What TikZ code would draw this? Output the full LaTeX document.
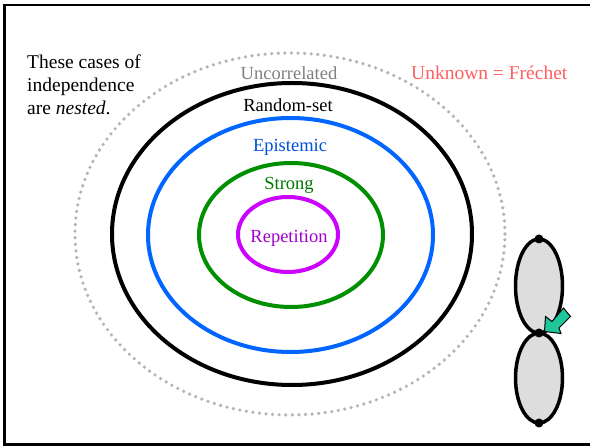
\documentclass[tikz,border=0pt]{standalone}
\usepackage{fontspec}
\setmainfont{Liberation Serif}
\usetikzlibrary{shapes.geometric}
\definecolor{dotgray}{HTML}{B4B4B4}
\definecolor{ublue}{HTML}{0066FF}
\definecolor{ugreen}{HTML}{008F00}
\definecolor{upurple}{HTML}{CC00FF}
\definecolor{tgray}{HTML}{808080}
\definecolor{tblue}{HTML}{0050DD}
\definecolor{tgreen}{HTML}{007A00}
\definecolor{tpurple}{HTML}{A000CC}
\definecolor{tred}{HTML}{FF5F5F}
\definecolor{lobe}{HTML}{DDDDDD}
\definecolor{teal}{HTML}{1DC79B}
\tikzset{
  ring/.style={ellipse, draw, line width=4pt, inner sep=0pt, outer sep=0pt},
  lbl/.style={font=\fontsize{18.5}{20}\selectfont, inner sep=0pt},
  lobeshape/.style={ellipse, draw, fill=lobe, line width=3.5pt, inner sep=0pt, outer sep=0pt},
  dotnode/.style={circle, fill=black, inner sep=0pt, minimum size=9pt},
}
\begin{document}
\begin{tikzpicture}[x=1pt,y=-1pt]
\useasboundingbox (0,0) rectangle (590,446);
\fill[white] (0,0) rectangle (590,446);
% frame
\draw[line width=2.6pt] (600,5) -- (4.5,5) -- (4.5,444.3) -- (600,444.3);
% nested ellipses
\node[ellipse, draw=dotgray, line width=3.6pt, dash pattern=on 0pt off 6.6pt, line cap=round,
      minimum width=430pt, minimum height=362pt, inner sep=0pt] (unc) at (290,234) {};
\node[ring, draw=black, minimum width=360pt, minimum height=302pt] (rs) at (292,234) {};
\node[ring, draw=ublue, minimum width=285pt, minimum height=234pt] (ep) at (290.5,235) {};
\node[ring, draw=ugreen, minimum width=184pt, minimum height=144pt] (st) at (291,235) {};
\node[ring, draw=upurple, minimum width=100pt, minimum height=75pt] (rep) at (288,234.5) {};
% labels
\node[lbl, text=tgray] (lunc) at (289,73) {Uncorrelated};
\node[lbl, text=black] (lrs) at (288,105) {Random-set};
\node[lbl, text=tblue] (lep) at (290,147) {Epistemic};
\node[lbl, text=tgreen] (lst) at (289,185) {Strong};
\node[lbl, text=tpurple] (lrep) at (289,238) {Repetition};
\node[font=\fontsize{19.5}{21}\selectfont, text=tred, inner sep=0pt, anchor=west] (fre) at (411,73) {Unknown = Fréchet};
\node[font=\fontsize{19.5}{22.6}\selectfont, align=left, inner sep=0pt, anchor=north west] (note) at (27,55)
  {These cases of\\independence\\are \textit{nested}.};
% right-hand lobes
\node[lobeshape, minimum width=47pt, minimum height=94pt] (top) at (539,286) {};
\node[lobeshape, minimum width=47pt, minimum height=90pt] (bot) at (539,378) {};
\node[dotnode] (d1) at (top.north) {};
\node[dotnode] (d2) at (top.south) {};
\node[dotnode] (d3) at (bot.south) {};
% teal block arrow pointing at the middle dot
\coordinate (tip) at (544.5,331.5);
\draw[fill=teal, line width=1pt, line join=miter]
  (tip) -- (545.5,316.5) -- (552,321.5) -- (563.5,308) -- (570.5,316.5) -- (559,328) -- (561,333.5) -- cycle;
\end{tikzpicture}
\end{document}
